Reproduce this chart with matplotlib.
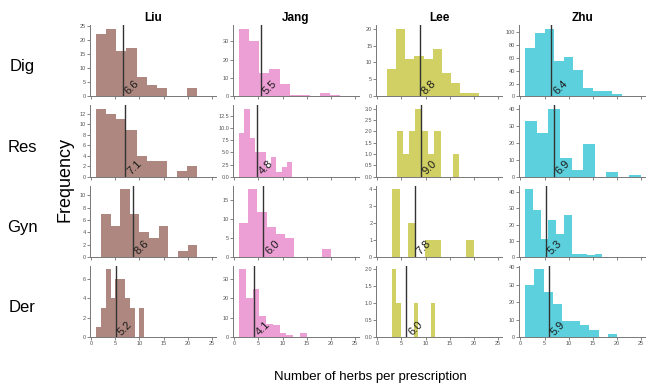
import numpy as np
import matplotlib
matplotlib.use("Agg")
import matplotlib.pyplot as plt
from matplotlib.ticker import MaxNLocator

plt.rcParams['font.family'] = ['Liberation Sans', 'DejaVu Sans']

authors = ["Liu", "Jang", "Lee", "Zhu"]
groups = ["Dig", "Res", "Gyn", "Der"]
colors = ["tab:brown", "tab:pink", "tab:olive", "tab:cyan"]

# histogram bin range (first edge, last edge) and counts of the 10 bins, per panel
dig_ranges = [(1, 22), (1, 22), (2, 21), (1, 21)]
dig_counts = [[22, 24, 16, 17, 7, 4, 3, 0, 0, 3],
              [37, 30, 13, 15, 7, 1, 1, 0, 2, 1],
              [8, 20, 11, 12, 11, 14, 7, 4, 1, 1],
              [75, 99, 106, 55, 61, 41, 13, 9, 8, 3]]
dig_means = [6.6, 5.5, 8.8, 6.4]

res_ranges = [(1, 22), (1, 12), (4, 17), (1, 25)]
res_counts = [[13, 12, 11, 9, 4, 3, 3, 0, 1, 2],
              [9, 14, 8, 5, 5, 2, 4, 1, 2, 3],
              [2, 1, 2, 3, 2, 1, 2, 0, 0, 1],
              [33, 26, 40, 11, 4, 19, 0, 3, 0, 1]]
res_means = [7.1, 4.8, 9.0, 6.9]

gyn_ranges = [(2, 22), (1, 20), (3, 20), (1, 17)]
gyn_counts = [[7, 5, 11, 7, 4, 3, 5, 0, 1, 2],
              [9, 18, 12, 8, 6, 5, 0, 0, 0, 2],
              [4, 0, 2, 0, 1, 1, 0, 0, 0, 1],
              [42, 29, 11, 23, 14, 26, 2, 2, 1, 2]]
gyn_means = [8.6, 6.0, 7.8, 5.3]

der_ranges = [(1, 11), (1, 15), (3, 12), (1, 20)]
der_counts = [[1, 3, 7, 4, 6, 6, 4, 3, 0, 3],
              [35, 20, 25, 11, 7, 6, 2, 1, 0, 2],
              [2, 1, 0, 0, 0, 1, 0, 0, 0, 1],
              [30, 39, 26, 19, 9, 9, 7, 4, 0, 2]]
der_means = [5.2, 4.1, 6.0, 5.9]

ranges = [dig_ranges, res_ranges, gyn_ranges, der_ranges]
counts = [dig_counts, res_counts, gyn_counts, der_counts]
means = [dig_means, res_means, gyn_means, der_means]

fig, axes = plt.subplots(4, 4, figsize=(6.54, 3.87), dpi=100, sharex=True)
fig.subplots_adjust(left=0.138, right=0.986, top=0.935, bottom=0.129,
                    wspace=0.141, hspace=0.126)

for i in range(4):
    for j in range(4):
        ax = axes[i, j]
        lo, hi = ranges[i][j]
        edges = np.linspace(lo, hi, len(counts[i][j]) + 1)
        ax.hist(edges[:-1], bins=edges, weights=counts[i][j],
                color=colors[j], alpha=0.7)
        m = means[i][j]
        ax.axvline(m, color="#333333", lw=1)
        ax.text(m, 0, "%.1f" % m, rotation=45, ha="left", va="bottom",
                fontsize=8, color="#1a1a1a")
        ax.set_xlim(-0.2, 25.8)
        ax.yaxis.set_major_locator(MaxNLocator(nbins=7, steps=[1, 2, 2.5, 5, 10]))
        ax.set_xticks([0, 5, 10, 15, 20, 25])
        for s in ["top", "right"]:
            ax.spines[s].set_visible(False)
        for s in ["left", "bottom"]:
            ax.spines[s].set_color("#777777")
            ax.spines[s].set_linewidth(0.7)
        ax.tick_params(labelsize=4, length=2, width=0.5, pad=1,
                       colors="#555555")
        if i == 0:
            ax.set_title(authors[j], fontsize=8.5, fontweight="bold", pad=3)

# row labels, placed a little below the centre of each row of panels
for i, g in enumerate(groups):
    pos = axes[i, 0].get_position()
    y = (pos.y0 + pos.y1) / 2 - 6 / 387
    fig.text(0.034, y, g, fontsize=12, ha="center", va="center")

fig.text(0.099, 0.535, "Frequency", rotation=90, fontsize=13,
         ha="center", va="center")
fig.text(0.566, 0.026, "Number of herbs per prescription", fontsize=9.5,
         ha="center", va="center")

fig.savefig("out.png", dpi=100)
